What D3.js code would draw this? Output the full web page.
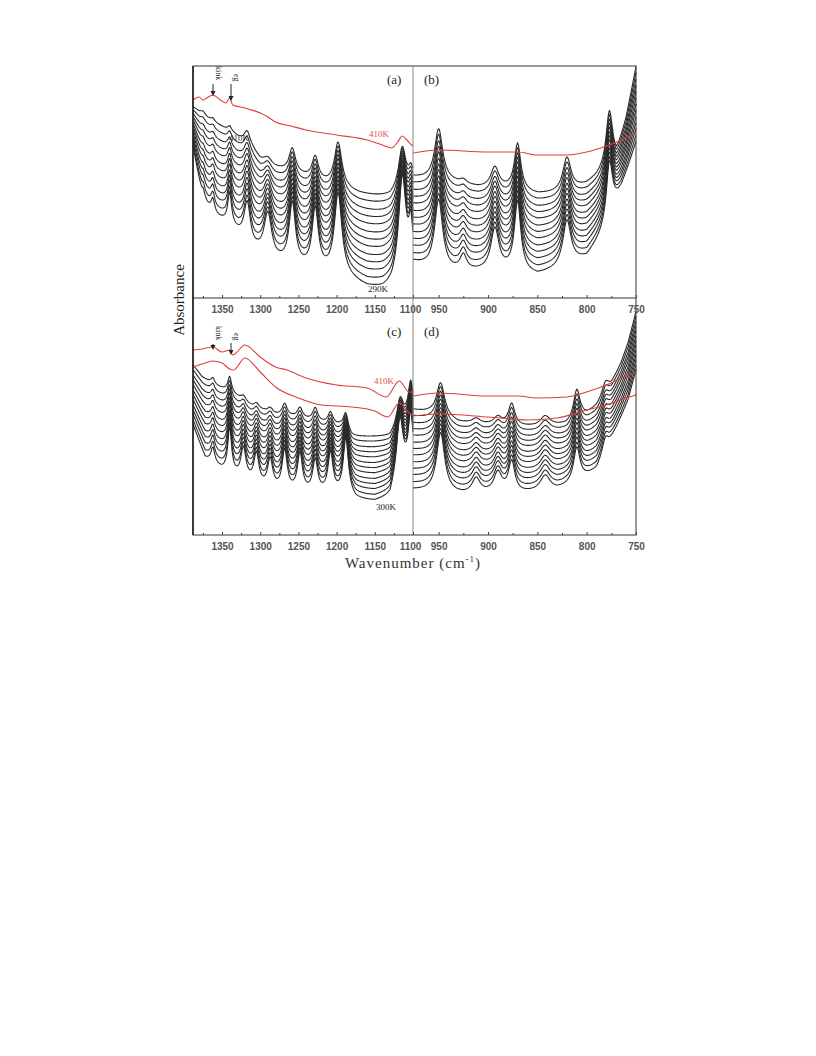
<!DOCTYPE html>
<html><head><meta charset="utf-8">
<script src="https://cdn.jsdelivr.net/npm/d3@7"></script>
<style>body{margin:0;background:#fff}</style>
</head><body>
<script>
// ---- data (absorbance, arbitrary units) ----
const levels = [0,.08,.17,.25,.33,.42,.5,.58,.67,.75,.83,.92,1];

// (a) 1388-1100
const aKnots = [1388,1365,1350,1335,1310,1300,1280,1250,1220,1190,1170,1150,1130,1110,1100];
const aTop   = [1.91,1.78,1.71,1.64,1.48,1.38,1.30,1.23,1.15,1.08,1.04,1.02,1.01,1.08,1.18];
const aBotKnots = [1388,1376,1362,1340,1310,1280,1250,1220,1185,1160,1140,1128,1110,1100];
const aBot   = [1.51,1.00,0.83,0.73,0.48,0.36,0.30,0.25,0.18,0.10,0.08,0.10,0.23,0.33];
// [centre, hwhm, amp top curve, amp bottom curve]
const aPeaks = [[1375,3,.03,.10],[1362,3,.03,.15],[1340,3,.05,.30],[1317,5,.14,.40],[1290,6,.06,.43],
  [1258,5,.24,.61],[1228,5,.23,.60],[1198,6,.45,.82],[1114,6,.44,1.0],[1103,3,.10,.35]];
const aRedX = [1388,1380,1375,1370,1362,1352,1345,1340,1336,1320,1300,1290,1280,1260,1240,1200,1160,1140,1128,1120,1114,1108,1102,1100];
const aRed  = [1.98,2.01,1.98,2.00,2.03,1.98,1.95,2.00,1.93,1.90,1.85,1.81,1.76,1.72,1.68,1.63,1.58,1.53,1.50,1.56,1.62,1.58,1.53,1.52];

// (b) 976-750
const bKnots = [976,960,935,910,880,850,820,800,790,770,760,750];
const bTop   = [1.21,1.18,1.15,1.10,1.08,1.03,1.05,1.13,1.20,1.38,1.78,2.30];
const bBotKnots = [976,960,940,910,880,850,830,800,780,765,750];
const bBot   = [.36,.30,.26,.26,.26,.22,.28,.40,.68,1.08,1.55];
const bPeaks = [[950,5,.52,.70],[925,4,.04,.15],[893,5,.21,.42],[870,4,.47,.70],[820,5,.35,.45],[777,4,.55,.60]];
const bRedX = [976,950,900,870,850,820,800,780,760,750];
const bRed  = [1.45,1.48,1.46,1.46,1.43,1.43,1.46,1.52,1.60,1.65];

// (c) 1388-1100
const cKnots = [1388,1376,1360,1340,1310,1280,1250,1220,1195,1180,1150,1130,1115,1100];
const cTop   = [1.70,1.58,1.50,1.43,1.28,1.20,1.17,1.12,1.08,0.98,0.98,0.98,1.12,1.18];
const cBotKnots = [1388,1372,1350,1330,1300,1270,1240,1200,1185,1175,1150,1130,1120,1100];
const cBot   = [1.10,0.77,0.65,0.58,0.48,0.43,0.41,0.40,0.40,0.35,0.33,0.37,0.58,0.63];
const cPeaks = [[1362,3,.06,.15],[1340,3,.15,.44],[1322,4,.05,.30],[1305,4,.05,.30],[1287,4,.05,.28],
  [1268,4,.12,.40],[1248,4,.10,.38],[1228,4,.13,.32],[1208,4,.12,.40],[1188,4,.18,.55],[1117,5,.25,.55],[1103,4,.35,.55]];
const cRedX = [1388,1376,1362,1350,1340,1336,1320,1300,1280,1265,1240,1200,1160,1135,1118,1105,1100];
const cRed1 = [1.85,1.86,1.88,1.83,1.85,1.80,1.90,1.78,1.68,1.65,1.57,1.50,1.47,1.38,1.54,1.43,1.43];
const cRed2X = [1388,1372,1362,1350,1340,1335,1320,1300,1280,1250,1220,1180,1150,1133,1118,1105,1100];
const cRed2 = [1.68,1.72,1.74,1.72,1.66,1.65,1.77,1.63,1.48,1.37,1.30,1.28,1.24,1.18,1.32,1.22,1.20];

// (d) 976-750
const dKnots = [976,960,930,900,870,850,820,800,790,775,765,758,750];
const dTop   = [1.25,1.22,1.12,1.10,1.08,1.08,1.10,1.20,1.28,1.50,1.72,1.92,2.23];
const dBotKnots = [976,950,925,900,870,850,830,810,790,778,765,758,750];
const dBot   = [.45,.42,.40,.41,.41,.43,.45,.52,.65,.88,1.18,1.35,1.65];
const dPeaks = [[948,5,.34,.60],[912,5,.05,.15],[890,5,.08,.20],[876,4,.22,.31],[842,6,.10,.15],[810,4,.30,.35],[781,4,.12,.15]];
const dRedX = [976,950,900,870,850,820,800,780,760,750];
const dRed1 = [1.39,1.42,1.39,1.39,1.37,1.38,1.43,1.50,1.59,1.62];
const dRed2X = [976,950,900,860,830,800,780,760,750];
const dRed2 = [1.19,1.21,1.18,1.15,1.17,1.25,1.30,1.37,1.40];

const leftTicks = [1350,1300,1250,1200,1150,1100];
const leftMinor = [1375,1325,1275,1225,1175,1125];
const rightTicks = [950,900,850,800,750];
const rightMinor = [925,875,825,775];

// ---- layout ----
const W = 816, H = 1056;
const L = 193, M = 413, R = 636;
const topY0 = 66, midY = 298, botY1 = 535;

const svg = d3.select("body").append("svg").attr("width",W).attr("height",H);

const xl = d3.scaleLinear().domain([1388,1100]).range([L,M]);
const xr = d3.scaleLinear().domain([976,750]).range([M,R]);
const yTop = d3.scaleLinear().domain([0,2.32]).range([midY,topY0]);
const yBot = d3.scaleLinear().domain([0,2.37]).range([botY1,midY]);

function knotFn(xs, vs){ return d3.scaleLinear().domain(xs).range(vs).clamp(true); }

function drawStack(x, y, knTop, top, knBot, bot, peaks){
  const ft = knotFn(knTop, top), fb = knotFn(knBot, bot);
  const [hi, lo] = x.domain();
  const wn = d3.range(lo, hi + 0.01, 0.5);
  const line = d3.line().x(d => x(d[0])).y(d => y(d[1]));
  const g = svg.append("g");
  levels.forEach(lv => {
    const pts = wn.map(w => {
      let v = ft(w) + lv * (fb(w) - ft(w));
      peaks.forEach(p => {
        const a = p[2] + lv * (p[3] - p[2]);
        v += a / (1 + ((w - p[0]) / p[1]) ** 2);
      });
      return [w, v];
    });
    g.append("path").datum(pts).attr("d", line)
      .attr("fill","none").attr("stroke","#2a2a2a").attr("stroke-width",1.1);
  });
}

function drawRed(x, y, xs, vs){
  const line = d3.line().x(d => x(d[0])).y(d => y(d[1])).curve(d3.curveMonotoneX);
  svg.append("path").datum(xs.map((w,i) => [w, vs[i]])).attr("d", line)
    .attr("fill","none").attr("stroke","#e03c3c").attr("stroke-width",1.1);
}

drawStack(xl, yTop, aKnots, aTop, aBotKnots, aBot, aPeaks);
drawStack(xr, yTop, bKnots, bTop, bBotKnots, bBot, bPeaks);
drawStack(xl, yBot, cKnots, cTop, cBotKnots, cBot, cPeaks);
drawStack(xr, yBot, dKnots, dTop, dBotKnots, dBot, dPeaks);

drawRed(xl, yTop, aRedX, aRed);
drawRed(xr, yTop, bRedX, bRed);
drawRed(xl, yBot, cRedX, cRed1);
drawRed(xl, yBot, cRed2X, cRed2);
drawRed(xr, yBot, dRedX, dRed1);
drawRed(xr, yBot, dRed2X, dRed2);

// ---- frames ----
svg.append("rect").attr("x",L).attr("y",topY0).attr("width",R-L).attr("height",botY1-topY0)
  .attr("fill","none").attr("stroke","#333").attr("stroke-width",1);
svg.append("line").attr("x1",L).attr("x2",R).attr("y1",midY).attr("y2",midY).attr("stroke","#333");
svg.append("line").attr("x1",M).attr("x2",M).attr("y1",topY0).attr("y2",botY1).attr("stroke","#888");
svg.append("line").attr("x1",L).attr("x2",L).attr("y1",topY0).attr("y2",botY1).attr("stroke","#222").attr("stroke-width",1.6);

// ---- axes ----
function axes(yPos){
  [[xl, leftTicks, leftMinor], [xr, rightTicks, rightMinor]].forEach(([x, major, minor]) => {
    svg.append("g").attr("transform",`translate(0,${yPos})`)
      .call(d3.axisTop(x).tickValues(minor).tickSize(2).tickFormat(""))
      .call(g => g.select(".domain").remove())
      .selectAll("line").attr("stroke","#444");
    const a = svg.append("g").attr("transform",`translate(0,${yPos})`)
      .call(d3.axisTop(x).tickValues(major).tickSize(3).tickFormat(d3.format("d")));
    a.select(".domain").remove();
    a.selectAll("line").attr("stroke","#444");
    a.selectAll("text").attr("font-family","Liberation Sans, Arial").attr("font-size",10)
      .attr("font-weight","bold").attr("fill","#555").attr("y",15).attr("dy",0);
    a.selectAll(".tick").filter(d => d === 1100).select("text").attr("dx", -3);
  });
}
axes(midY);
axes(botY1);

// ---- text ----
const serif = "Liberation Serif, Times New Roman, serif";
function txt(x, y, s, opt = {}){
  return svg.append("text").attr("x",x).attr("y",y).text(s)
    .attr("font-family",serif).attr("font-size",opt.size || 11)
    .attr("fill",opt.fill || "#222").attr("font-weight",opt.bold ? "bold" : null)
    .attr("text-anchor",opt.anchor || "start");
}
txt(387,84,"(a)",{size:13});
txt(424,84,"(b)",{size:13});
txt(387,336,"(c)",{size:13});
txt(424,336,"(d)",{size:13});
txt(369,137,"410K",{size:9,fill:"#e05050"});
txt(229,141,"410K",{size:9,fill:"#333"});
txt(368,292,"290K",{size:9});
txt(374,384,"410K",{size:9,fill:"#e05050"});
txt(376,510,"300K",{size:9});

function marker(x, yTxt, yTip, s){
  svg.append("text").attr("transform",`translate(${x+3},${yTxt}) rotate(90)`).text(s)
    .attr("font-family",serif).attr("font-size",8).attr("fill","#222");
  svg.append("line").attr("x1",x).attr("x2",x).attr("y1",yTxt+ (s==="kink"?18:10)).attr("y2",yTip-4)
    .attr("stroke","#222");
  svg.append("path").attr("d",`M${x-2.5},${yTip-5}L${x+2.5},${yTip-5}L${x},${yTip}Z`).attr("fill","#222");
}
marker(213,66,96,"kink");
marker(231,74,101,"eg");
marker(213,326,350,"kink");
marker(231,333,355,"eg");

svg.append("text").attr("transform","translate(184,300) rotate(-90)").attr("text-anchor","middle")
  .attr("font-family",serif).attr("font-size",15).attr("fill","#222").text("Absorbance");
const wt = svg.append("text").attr("x",413).attr("y",568).attr("text-anchor","middle")
  .attr("font-family",serif).attr("font-size",15).attr("letter-spacing",1).attr("fill","#333");
wt.append("tspan").text("Wavenumber (cm");
wt.append("tspan").attr("dy",-6).attr("font-size",9).text("-1");
wt.append("tspan").attr("dy",6).text(")");
</script>
</body></html>
